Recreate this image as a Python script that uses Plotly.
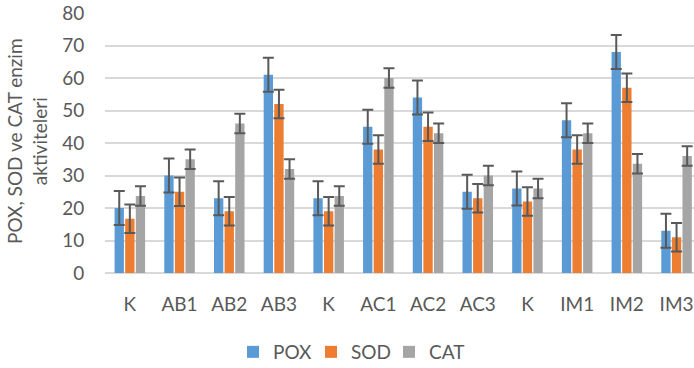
import plotly.graph_objects as go

categories = ["K", "AB1", "AB2", "AB3", "K", "AC1", "AC2", "AC3", "K", "IM1", "IM2", "IM3"]
pox = [20, 30, 23, 61, 23, 45, 54, 25, 26, 47, 68, 13]
sod = [16.7, 25, 19, 52, 19, 38, 45, 23, 22, 38, 57, 11]
cat = [23.7, 35, 46, 32, 23.7, 60, 43, 30, 26, 43, 33.6, 36]
pox_err = [5.2] * 12
sod_err = [4.4] * 12
cat_err = [3.0] * 12
y_ticks = [0, 10, 20, 30, 40, 50, 60, 70, 80]

FONT = "Lato"
xpos = list(range(len(categories)))

series = [
    ("POX", pox, pox_err, "#5B9BD5"),
    ("SOD", sod, sod_err, "#ED7D31"),
    ("CAT", cat, cat_err, "#A5A5A5"),
]

fig = go.Figure()
for name, vals, err, col in series:
    fig.add_trace(go.Bar(
        name=name, x=xpos, y=vals, marker_color=col, marker_line_width=0,
        error_y=dict(type="data", array=err, visible=True, color="#595959",
                     thickness=2, width=5.5),
    ))

W, H = 694, 368
ml, mr, mt, mb = 105, 0, 13, 95
pw = W - ml - mr
ph = H - mt - mb
period = 49.7

fig.update_layout(
    width=W, height=H,
    margin=dict(l=ml, r=mr, t=mt, b=mb, autoexpand=False),
    paper_bgcolor="white", plot_bgcolor="white",
    barmode="group", bargap=0.36, bargroupgap=0.12,
    font=dict(family=FONT, size=19, color="#595959"),
    xaxis=dict(range=[-0.5, -0.5 + pw / period], tickvals=xpos, ticktext=categories,
               showgrid=False, zeroline=False, showline=False, automargin=False,
               ticks="outside", ticklen=14, tickcolor="rgba(0,0,0,0)",
               tickfont=dict(size=19, color="#595959")),
    yaxis=dict(range=[0, 80], tickvals=y_ticks, showgrid=True, gridcolor="#D9D9D9",
               gridwidth=1.5, zeroline=True, zerolinecolor="#D9D9D9", zerolinewidth=1.5,
               showline=False, ticks="outside", ticklen=16, tickcolor="rgba(0,0,0,0)",
               automargin=False, tickfont=dict(size=19, color="#595959")),
    legend=dict(orientation="h", x=(350 - ml) / pw, xanchor="center",
                y=(mt + ph - 352) / ph, yanchor="middle",
                entrywidth=33, entrywidthmode="pixels",
                font=dict(size=19, color="#595959"), traceorder="normal"),
    showlegend=True,
    annotations=[dict(
        text="POX, SOD ve CAT enzim<br>aktiviteleri", textangle=-90,
        xref="paper", yref="paper", x=(27 - ml) / pw, y=(mt + ph - 141) / ph,
        xanchor="center", yanchor="middle", showarrow=False,
        font=dict(size=19, color="#595959", family=FONT),
    )],
)

fig.write_html("out.html", config={"displayModeBar": False},
               post_script="document.body.style.margin='0px';document.body.style.overflow='hidden';")
